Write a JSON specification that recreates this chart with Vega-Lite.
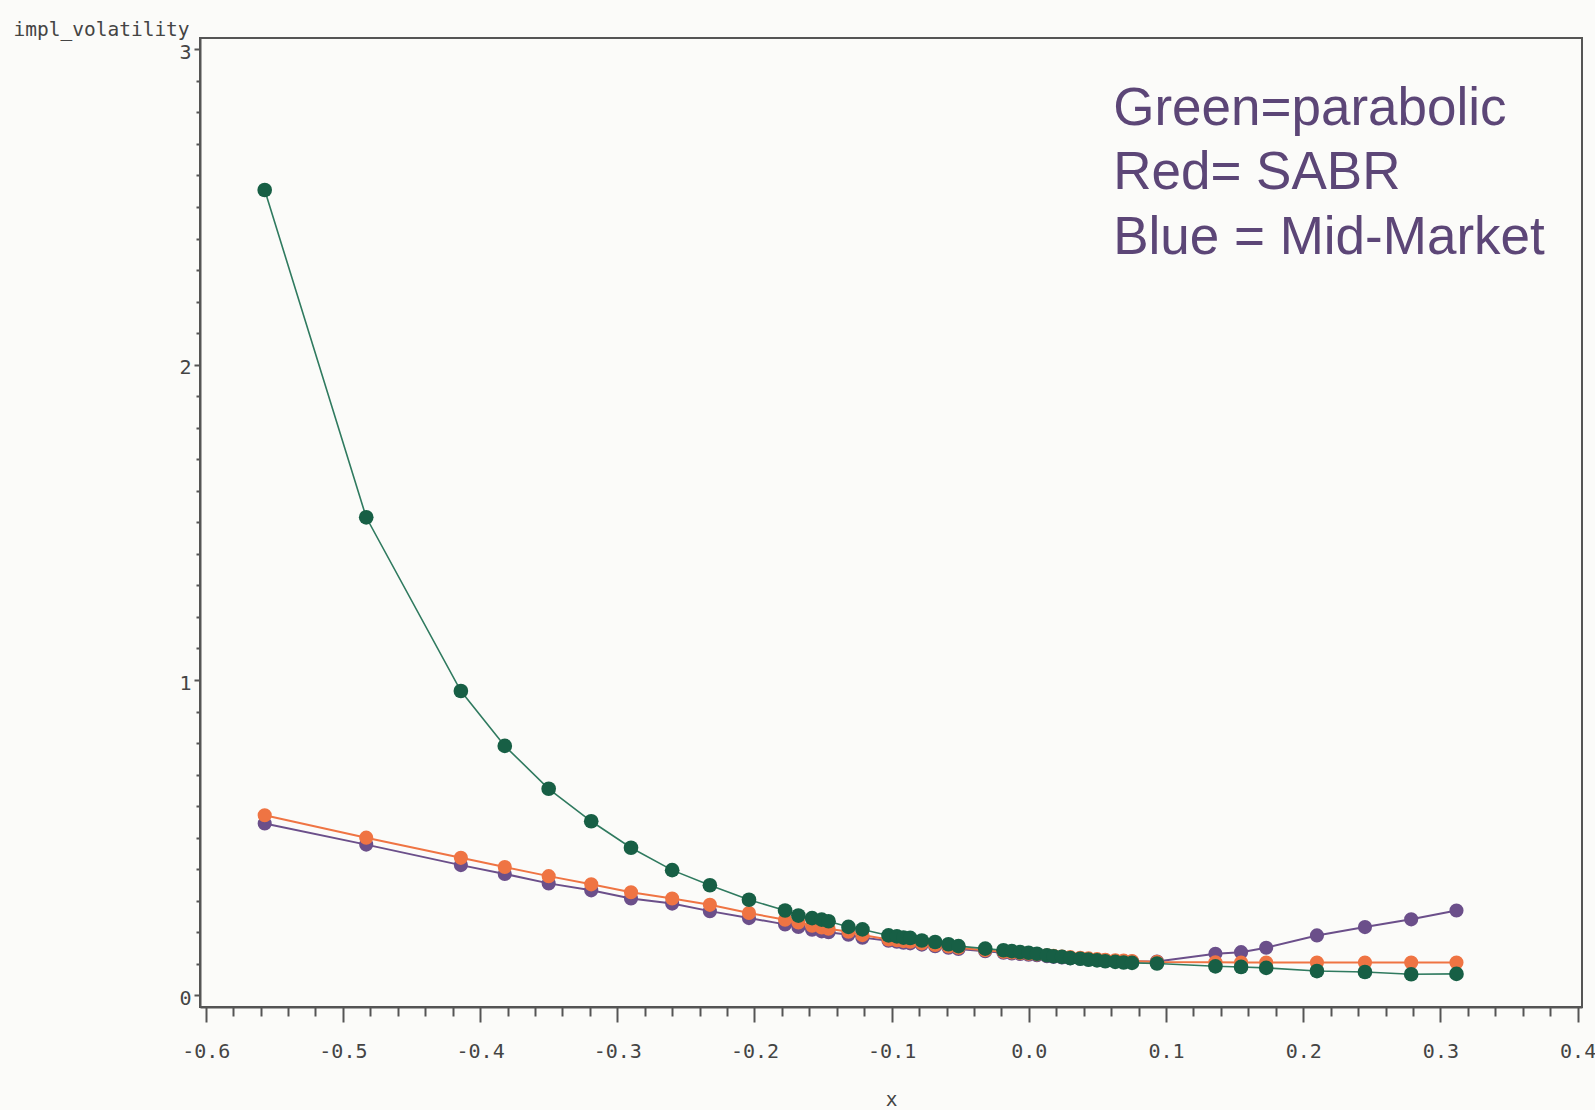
{
  "$schema": "https://vega.github.io/schema/vega-lite/v6.json",
  "autosize": {"type": "none"},
  "width": 1382,
  "height": 969,
  "padding": {"left": 200, "top": 38, "right": 13, "bottom": 103},
  "background": "#fbfbf9",
  "config": {
    "view": {"stroke": "#555555", "strokeWidth": 2},
    "axis": {
      "domainColor": "#555555", "domainWidth": 2,
      "tickColor": "#555555", "tickWidth": 2,
      "labelFont": "DejaVu Sans Mono", "labelFontSize": 20, "labelColor": "#444444",
      "titleFont": "DejaVu Sans Mono", "titleFontSize": 19.5, "titleColor": "#444444", "titleFontWeight": "normal",
      "grid": false
    }
  },
  "datasets": {
    "mid": [
      {"x": -0.557, "y": 0.545}, {"x": -0.483, "y": 0.478}, {"x": -0.414, "y": 0.413}, {"x": -0.382, "y": 0.385},
      {"x": -0.350, "y": 0.355}, {"x": -0.319, "y": 0.333}, {"x": -0.290, "y": 0.307}, {"x": -0.260, "y": 0.291},
      {"x": -0.2325, "y": 0.267}, {"x": -0.204, "y": 0.245}, {"x": -0.1777, "y": 0.225}, {"x": -0.168, "y": 0.217},
      {"x": -0.158, "y": 0.208}, {"x": -0.151, "y": 0.203}, {"x": -0.146, "y": 0.200}, {"x": -0.1315, "y": 0.192},
      {"x": -0.1213, "y": 0.183}, {"x": -0.1023, "y": 0.173}, {"x": -0.0962, "y": 0.170}, {"x": -0.0914, "y": 0.167},
      {"x": -0.0865, "y": 0.165}, {"x": -0.078, "y": 0.161}, {"x": -0.0683, "y": 0.156}, {"x": -0.0586, "y": 0.151},
      {"x": -0.0513, "y": 0.147}, {"x": -0.0318, "y": 0.140}, {"x": -0.0185, "y": 0.135}, {"x": -0.0124, "y": 0.133},
      {"x": -0.0063, "y": 0.131}, {"x": -0.0002, "y": 0.129}, {"x": 0.0059, "y": 0.127}, {"x": 0.0132, "y": 0.124},
      {"x": 0.018, "y": 0.122}, {"x": 0.0241, "y": 0.120}, {"x": 0.0302, "y": 0.118}, {"x": 0.0375, "y": 0.116},
      {"x": 0.0435, "y": 0.114}, {"x": 0.0497, "y": 0.112}, {"x": 0.0557, "y": 0.111}, {"x": 0.063, "y": 0.109},
      {"x": 0.0691, "y": 0.108}, {"x": 0.0752, "y": 0.107}, {"x": 0.0934, "y": 0.107}, {"x": 0.136, "y": 0.132},
      {"x": 0.1547, "y": 0.137}, {"x": 0.173, "y": 0.151}, {"x": 0.210, "y": 0.190}, {"x": 0.245, "y": 0.2165},
      {"x": 0.2787, "y": 0.241}, {"x": 0.3117, "y": 0.269}
    ],
    "sabr": [
      {"x": -0.557, "y": 0.571}, {"x": -0.483, "y": 0.500}, {"x": -0.414, "y": 0.436}, {"x": -0.382, "y": 0.407},
      {"x": -0.350, "y": 0.378}, {"x": -0.319, "y": 0.352}, {"x": -0.290, "y": 0.327}, {"x": -0.260, "y": 0.307},
      {"x": -0.2325, "y": 0.287}, {"x": -0.204, "y": 0.261}, {"x": -0.1777, "y": 0.240}, {"x": -0.168, "y": 0.231},
      {"x": -0.158, "y": 0.221}, {"x": -0.151, "y": 0.215}, {"x": -0.146, "y": 0.211}, {"x": -0.1315, "y": 0.202},
      {"x": -0.1213, "y": 0.191}, {"x": -0.1023, "y": 0.177}, {"x": -0.0962, "y": 0.175}, {"x": -0.0914, "y": 0.172},
      {"x": -0.0865, "y": 0.170}, {"x": -0.078, "y": 0.165}, {"x": -0.0683, "y": 0.160}, {"x": -0.0586, "y": 0.155},
      {"x": -0.0513, "y": 0.151}, {"x": -0.0318, "y": 0.143}, {"x": -0.0185, "y": 0.138}, {"x": -0.0124, "y": 0.136},
      {"x": -0.0063, "y": 0.134}, {"x": -0.0002, "y": 0.132}, {"x": 0.0059, "y": 0.130}, {"x": 0.0132, "y": 0.127},
      {"x": 0.018, "y": 0.125}, {"x": 0.0241, "y": 0.123}, {"x": 0.0302, "y": 0.121}, {"x": 0.0375, "y": 0.119},
      {"x": 0.0435, "y": 0.117}, {"x": 0.0497, "y": 0.115}, {"x": 0.0557, "y": 0.113}, {"x": 0.063, "y": 0.111},
      {"x": 0.0691, "y": 0.110}, {"x": 0.0752, "y": 0.109}, {"x": 0.0934, "y": 0.106}, {"x": 0.136, "y": 0.105},
      {"x": 0.1547, "y": 0.104}, {"x": 0.173, "y": 0.104}, {"x": 0.210, "y": 0.104}, {"x": 0.245, "y": 0.104},
      {"x": 0.2787, "y": 0.104}, {"x": 0.3117, "y": 0.104}
    ],
    "parab": [
      {"x": -0.557, "y": 2.554}, {"x": -0.483, "y": 1.516}, {"x": -0.414, "y": 0.965}, {"x": -0.382, "y": 0.791},
      {"x": -0.350, "y": 0.655}, {"x": -0.319, "y": 0.552}, {"x": -0.290, "y": 0.468}, {"x": -0.260, "y": 0.397},
      {"x": -0.2325, "y": 0.349}, {"x": -0.204, "y": 0.303}, {"x": -0.1777, "y": 0.269}, {"x": -0.168, "y": 0.253},
      {"x": -0.158, "y": 0.245}, {"x": -0.151, "y": 0.240}, {"x": -0.146, "y": 0.235}, {"x": -0.1315, "y": 0.217},
      {"x": -0.1213, "y": 0.209}, {"x": -0.1023, "y": 0.190}, {"x": -0.0962, "y": 0.187}, {"x": -0.0914, "y": 0.183},
      {"x": -0.0865, "y": 0.182}, {"x": -0.078, "y": 0.174}, {"x": -0.0683, "y": 0.169}, {"x": -0.0586, "y": 0.162},
      {"x": -0.0513, "y": 0.156}, {"x": -0.0318, "y": 0.148}, {"x": -0.0185, "y": 0.143}, {"x": -0.0124, "y": 0.140},
      {"x": -0.0063, "y": 0.137}, {"x": -0.0002, "y": 0.135}, {"x": 0.0059, "y": 0.132}, {"x": 0.0132, "y": 0.127},
      {"x": 0.018, "y": 0.124}, {"x": 0.0241, "y": 0.122}, {"x": 0.0302, "y": 0.118}, {"x": 0.0375, "y": 0.116},
      {"x": 0.0435, "y": 0.113}, {"x": 0.0497, "y": 0.111}, {"x": 0.0557, "y": 0.108}, {"x": 0.063, "y": 0.106},
      {"x": 0.0691, "y": 0.104}, {"x": 0.0752, "y": 0.103}, {"x": 0.0934, "y": 0.101}, {"x": 0.136, "y": 0.092},
      {"x": 0.1547, "y": 0.090}, {"x": 0.173, "y": 0.087}, {"x": 0.210, "y": 0.077}, {"x": 0.245, "y": 0.074},
      {"x": 0.2787, "y": 0.067}, {"x": 0.3117, "y": 0.068}
    ],
    "note": [
      {"label": ["Green=parabolic", "Red= SABR", "Blue = Mid-Market"]}
    ]
  },
  "layer": [
    {
      "encoding": {
        "x": {
          "field": "x", "type": "quantitative",
          "scale": {"domain": [-0.60416, 0.4032], "nice": false, "zero": false},
          "axis": {
            "title": "x",
            "titleY": 98, "titleBaseline": "alphabetic",
            "values": [-0.6,-0.58,-0.56,-0.54,-0.52,-0.5,-0.48,-0.46,-0.44,-0.42,-0.4,-0.38,-0.36,-0.34,-0.32,-0.3,-0.28,-0.26,-0.24,-0.22,-0.2,-0.18,-0.16,-0.14,-0.12,-0.1,-0.08,-0.06,-0.04,-0.02,0,0.02,0.04,0.06,0.08,0.1,0.12,0.14,0.16,0.18,0.2,0.22,0.24,0.26,0.28,0.3,0.32,0.34,0.36,0.38,0.4],
            "labelExpr": "abs(datum.value*10 - round(datum.value*10)) < 0.001 ? replace(format(datum.value, '.1f'), '−', '-') : ''",
            "tickSize": {"condition": {"test": "abs(datum.value*10 - round(datum.value*10)) < 0.001", "value": 15}, "value": 9},
            "labelPadding": 19,
            "labelFlush": false,
            "labelOverlap": false
          }
        },
        "y": {
          "field": "y", "type": "quantitative",
          "scale": {"domain": [-0.037, 3.036], "nice": false, "zero": false},
          "axis": {
            "title": "impl_volatility",
            "titleAngle": 0, "titleAlign": "left", "titleBaseline": "alphabetic",
            "titleX": -187, "titleY": -3,
            "values": [0,0.1,0.2,0.3,0.4,0.5,0.6,0.7,0.8,0.9,1,1.1,1.2,1.3,1.4,1.5,1.6,1.7,1.8,1.9,2,2.1,2.2,2.3,2.4,2.5,2.6,2.7,2.8,2.9,3],
            "labelExpr": "abs(datum.value - round(datum.value)) < 0.001 ? format(datum.value, 'd') : ''",
            "tickSize": {"condition": {"test": "abs(datum.value - round(datum.value)) < 0.001", "value": 6}, "value": 4},
            "labelPadding": 3,
            "labelOffset": 3,
            "labelFlush": false,
            "labelOverlap": false
          }
        }
      },
      "layer": [
        {
          "data": {"name": "mid"},
          "mark": {"type": "line", "color": "#6b4f8a", "strokeWidth": 2,
            "point": {"filled": true, "color": "#6b4f8a", "size": 200, "opacity": 1}}
        },
        {
          "data": {"name": "sabr"},
          "mark": {"type": "line", "color": "#ef7443", "strokeWidth": 2,
            "point": {"filled": true, "color": "#ef7443", "size": 200, "opacity": 1}}
        },
        {
          "data": {"name": "parab"},
          "mark": {"type": "line", "color": "#2f7a5f", "strokeWidth": 1.6,
            "point": {"filled": true, "color": "#175f45", "size": 215, "opacity": 1}}
        }
      ]
    },
    {
      "data": {"name": "note"},
      "mark": {"type": "text", "font": "Liberation Sans", "fontSize": 53, "color": "#5c4677",
        "align": "left", "baseline": "alphabetic", "lineHeight": 64.5},
      "encoding": {
        "x": {
          "datum": 0.0615, "type": "quantitative",
          "scale": {"domain": [-0.60416, 0.4032], "nice": false, "zero": false},
          "axis": {
            "title": "x",
            "titleY": 98, "titleBaseline": "alphabetic",
            "values": [-0.6,-0.58,-0.56,-0.54,-0.52,-0.5,-0.48,-0.46,-0.44,-0.42,-0.4,-0.38,-0.36,-0.34,-0.32,-0.3,-0.28,-0.26,-0.24,-0.22,-0.2,-0.18,-0.16,-0.14,-0.12,-0.1,-0.08,-0.06,-0.04,-0.02,0,0.02,0.04,0.06,0.08,0.1,0.12,0.14,0.16,0.18,0.2,0.22,0.24,0.26,0.28,0.3,0.32,0.34,0.36,0.38,0.4],
            "labelExpr": "abs(datum.value*10 - round(datum.value*10)) < 0.001 ? replace(format(datum.value, '.1f'), '−', '-') : ''",
            "tickSize": {"condition": {"test": "abs(datum.value*10 - round(datum.value*10)) < 0.001", "value": 15}, "value": 9},
            "labelPadding": 19,
            "labelFlush": false,
            "labelOverlap": false
          }
        },
        "y": {
          "datum": 2.761, "type": "quantitative",
          "scale": {"domain": [-0.037, 3.036], "nice": false, "zero": false},
          "axis": {
            "title": "impl_volatility",
            "titleAngle": 0, "titleAlign": "left", "titleBaseline": "alphabetic",
            "titleX": -187, "titleY": -3,
            "values": [0,0.1,0.2,0.3,0.4,0.5,0.6,0.7,0.8,0.9,1,1.1,1.2,1.3,1.4,1.5,1.6,1.7,1.8,1.9,2,2.1,2.2,2.3,2.4,2.5,2.6,2.7,2.8,2.9,3],
            "labelExpr": "abs(datum.value - round(datum.value)) < 0.001 ? format(datum.value, 'd') : ''",
            "tickSize": {"condition": {"test": "abs(datum.value - round(datum.value)) < 0.001", "value": 6}, "value": 4},
            "labelPadding": 3,
            "labelOffset": 3,
            "labelFlush": false,
            "labelOverlap": false
          }
        },
        "text": {"field": "label"}
      }
    }
  ]
}
